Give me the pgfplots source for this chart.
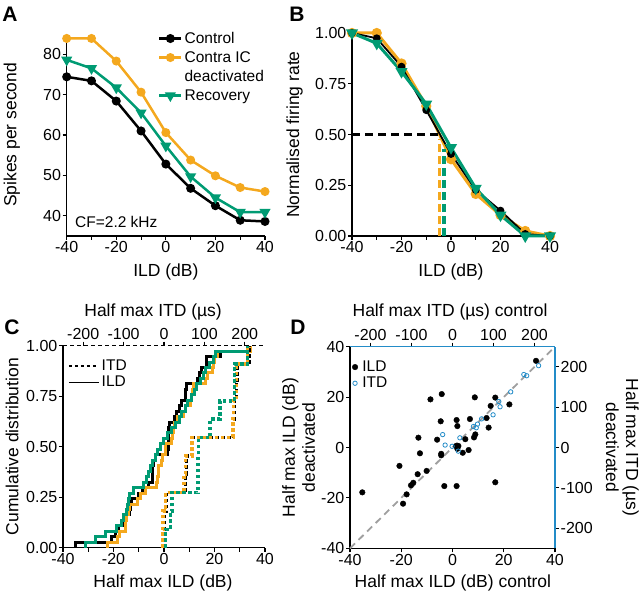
\documentclass[border=0pt]{standalone}
\usepackage{fontspec}
\setmainfont{Liberation Sans}
\usepackage{pgfplots}
\pgfplotsset{compat=1.18}
\definecolor{cOr}{RGB}{244,168,30}
\definecolor{cGr}{RGB}{0,155,115}
\definecolor{cBl}{RGB}{35,140,200}
\begin{document}
\begin{tikzpicture}
\path[use as bounding box] (0pt,0pt) rectangle (640pt,595pt);
\pgfplotsset{
  base/.style={
    scale only axis,
    anchor=south west,
    /pgf/number format/assume math mode=true,
    tick label style={font=\fontsize{16}{19}\selectfont, inner sep=1.5pt},
    label style={font=\fontsize{17.5}{20}\selectfont},
    axis line style={line width=1.3pt, -},
    tick style={line width=1.1pt, black},
    major tick length=4pt,
    tick align=outside,
    clip=false,
  },
  xl/.style 2 args={xlabel style={at={(axis description cs:#1,#2)}, anchor=center}},
  yl/.style 2 args={ylabel style={at={(axis description cs:#1,#2)}, anchor=center}},
}
% ---------------- Panel A ----------------
\begin{axis}[base, at={(66.7pt,359pt)}, width=198.3pt, height=202pt,
  xmin=-40, xmax=40, ymin=35, ymax=85,
  axis x line*=bottom, axis y line*=left,
  xtick={-40,-30,...,40}, xticklabels={-40,,-20,,0,,20,,40},
  ytick={40,50,60,70,80},
  xlabel={ILD (dB)}, ylabel={Spikes per second},
  xl={0.5}{-0.178}, yl={-0.276}{0.5},
  legend style={draw=none, fill=none, at={(0.46,1.02)}, anchor=north west,
    font=\fontsize{15.5}{19}\selectfont, row sep=2.5pt, inner sep=0pt},
  legend cell align=left,
  legend image code/.code={\draw[mark repeat=2,mark phase=2,#1] plot coordinates {(0pt,0pt) (11pt,0pt) (22pt,0pt)};},
]
\addplot[black, line width=2.5pt, mark=*, mark size=3.2pt] coordinates {
(-40,74.4) (-30,73.4) (-20,68.4) (-10,61.0) (0,52.8) (10,46.8) (20,42.5) (30,38.9) (40,38.6)};
\addlegendentry{Control}
\addplot[cOr, line width=2.5pt, mark=*, mark size=3.2pt] coordinates {
(-40,83.9) (-30,83.9) (-20,78.3) (-10,70.6) (0,60.6) (10,53.8) (20,49.9) (30,47.0) (40,46.0)};
\addlegendentry{Contra IC}
\addlegendimage{empty legend}
\addlegendentry{deactivated}
\addplot[cGr, line width=2.5pt, mark=triangle*, mark size=4pt, mark options={rotate=180}] coordinates {
(-40,78.6) (-30,76.5) (-20,71.7) (-10,65.5) (0,57.3) (10,49.7) (20,44.5) (30,40.9) (40,40.9)};
\addlegendentry{Recovery}
\node[anchor=west, font=\fontsize{15.5}{18}\selectfont] at (axis cs:-38,38.5) {CF=2.2 kHz};
\end{axis}
% ---------------- Panel B ----------------
\begin{axis}[base, at={(352pt,359pt)}, width=198pt, height=203pt,
  xmin=-40, xmax=40, ymin=0, ymax=1,
  axis x line*=bottom, axis y line*=left,
  xtick={-40,-30,...,40}, xticklabels={-40,,-20,,0,,20,,40},
  ytick={0,0.25,0.5,0.75,1}, yticklabels={0.00,0.25,0.50,0.75,1.00},
  xlabel={ILD (dB)}, ylabel={Normalised firing rate},
  xl={0.5}{-0.178}, yl={-0.29}{0.5},
]
\addplot[cOr, line width=3pt, mark=*, mark size=3.5pt] coordinates {
(-40,1.0) (-30,1.0) (-20,0.85) (-10,0.64) (0,0.378) (10,0.207) (20,0.103) (30,0.025) (40,0.0)};
\addplot[black, line width=1.8pt, mark=*, mark size=3pt] coordinates {
(-40,1.0) (-30,0.974) (-20,0.834) (-10,0.62) (0,0.404) (10,0.227) (20,0.125) (30,0.01) (40,0.0)};
\addplot[cGr, line width=3pt, mark=triangle*, mark size=4pt, mark options={rotate=180}] coordinates {
(-40,1.0) (-30,0.949) (-20,0.81) (-10,0.65) (0,0.435) (10,0.235) (20,0.103) (30,0.0) (40,0.0)};
\addplot[black, line width=3pt, dash pattern=on 8pt off 5pt] coordinates {(-40,0.5) (-5,0.5)};
\addplot[cOr, line width=3.5pt, dash pattern=on 8pt off 4pt] coordinates {(-4.7,0) (-4.7,0.48)};
\addplot[cGr, line width=3.5pt, dash pattern=on 8pt off 4pt] coordinates {(-2.8,0) (-2.8,0.43)};
\end{axis}
% ---------------- Panel C ----------------
\begin{axis}[base, at={(63pt,47.3pt)}, width=202pt, height=202pt,
  xmin=-40, xmax=40, ymin=0, ymax=1,
  axis x line*=bottom, axis y line*=left,
  xtick={-40,-30,...,40}, xticklabels={-40,,-20,,0,,20,,40},
  ytick={0,0.25,0.5,0.75,1}, yticklabels={0.00,0.25,0.50,0.75,1.00},
  xlabel={Half max ILD (dB)}, ylabel={Cumulative distribution},
  xl={0.495}{-0.175}, yl={-0.252}{0.5},
  legend style={draw=none, fill=none, at={(0.025,0.94)}, anchor=north west,
    font=\fontsize{15.5}{18}\selectfont, row sep=0pt, inner sep=0pt},
  legend cell align=left,
  legend image code/.code={\draw[#1] (0pt,0pt) -- (30pt,0pt);},
]
\addlegendimage{black, line width=1.5pt, dash pattern=on 3.5pt off 2.5pt}
\addlegendentry{ITD}
\addlegendimage{black, line width=1.5pt}
\addlegendentry{ILD}
\addplot[black, line width=3pt, const plot] coordinates {
(-35.2,0) (-35.2,0.027) (-20.7,0.054) (-19.3,0.081) (-17.9,0.108) (-16.2,0.135) (-15.3,0.162)
(-13.6,0.189) (-13.3,0.216) (-12.7,0.243) (-10.1,0.270) (-8.6,0.297) (-6.0,0.324) (-4.6,0.351)
(-4.4,0.378) (-4.4,0.405) (-4.2,0.432) (-3.2,0.459) (1.4,0.486) (1.6,0.514) (1.6,0.541)
(1.9,0.568) (1.9,0.595) (2.3,0.622) (4.0,0.649) (5.0,0.676) (6.3,0.703) (6.8,0.730)
(8.4,0.757) (8.7,0.784) (8.9,0.811) (13.3,0.838) (14.1,0.865) (14.9,0.892) (16.7,0.919)
(16.7,0.946) (22.2,0.973) (33.5,1.0)};
\addplot[cOr, line width=3pt, const plot] coordinates {
(-22.3,0) (-22.3,0.027) (-18.6,0.054) (-17.8,0.081) (-15.3,0.108) (-15.3,0.135) (-15.0,0.162)
(-14.0,0.189) (-13.8,0.216) (-10.6,0.243) (-9.3,0.270) (-7.3,0.297) (-3.1,0.324) (-2.5,0.351)
(-2.3,0.378) (-2.1,0.405) (-1.0,0.432) (-0.5,0.459) (0.6,0.486) (0.6,0.514) (3.1,0.541)
(3.3,0.568) (3.9,0.595) (4.0,0.622) (5.2,0.649) (7.9,0.676) (8.5,0.703) (10.4,0.730)
(10.9,0.757) (11.3,0.784) (11.7,0.811) (16.5,0.838) (17.1,0.865) (19.1,0.892) (19.8,0.919)
(19.9,0.946) (21.2,0.973) (34.4,1.0)};
\addplot[cGr, line width=3pt, const plot] coordinates {
(-31,0) (-31,0.027) (-27,0.054) (-23,0.081) (-19,0.108) (-17,0.135) (-16,0.162)
(-15,0.189) (-14.5,0.216) (-14.2,0.243) (-13.7,0.270) (-12,0.297) (-8,0.324) (-7,0.351)
(-6,0.378) (-5.5,0.405) (-4.5,0.432) (-3.5,0.459) (-2.5,0.486) (-1.5,0.514) (0,0.541)
(1.5,0.568) (3,0.595) (4.5,0.622) (6,0.649) (7,0.676) (8.5,0.703) (9.5,0.730)
(11,0.757) (12,0.784) (13,0.811) (14.5,0.838) (15.5,0.865) (16.5,0.892) (18,0.919)
(19.5,0.946) (20.5,0.973) (33,1.0)};
\end{axis}
\begin{axis}[base, at={(63pt,47.3pt)}, width=202pt, height=202pt,
  xmin=-250, xmax=250, ymin=0, ymax=1,
  axis x line*=top, axis y line=none,
  axis line style={line width=1.3pt, dash pattern=on 4pt off 3pt},
  xtick={-200,-100,0,100,200},
  xlabel={Half max ITD (µs)}, xl={0.446}{1.167},
]
\addplot[black, line width=3.5pt, const plot, dash pattern=on 3.5pt off 2.5pt] coordinates {
(-1,0) (-1,0.091) (0,0.182) (5,0.273) (53,0.364) (56,0.455) (70,0.545) (172,0.636) (174,0.727) (179,0.818) (182,0.909) (212,1.0)};
\addplot[cOr, line width=3.5pt, const plot, dash pattern=on 3.5pt off 2.5pt] coordinates {
(-3,0) (-3,0.091) (-2,0.182) (4,0.273) (50,0.364) (53,0.455) (69,0.545) (171,0.636) (172,0.727) (179,0.818) (179,0.909) (207,1.0)};
\addplot[cGr, line width=3.5pt, const plot, dash pattern=on 3.5pt off 2.5pt] coordinates {
(4,0) (4,0.091) (16,0.182) (20,0.273) (84,0.364) (84,0.455) (85,0.545) (114,0.636) (138,0.727) (175,0.818) (175,0.909) (207,1.0)};
\end{axis}
% ---------------- Panel D ----------------
\begin{axis}[base, at={(350pt,46.7pt)}, width=205pt, height=201.6pt,
  xmin=-40, xmax=40, ymin=-40, ymax=40,
  axis x line*=bottom, axis y line*=left,
  xtick={-40,-20,...,40}, ytick={-40,-20,...,40},
  xlabel={Half max ILD (dB) control}, ylabel={Half max ILD (dB)\\deactivated},
  xl={0.502}{-0.172}, yl={-0.251}{0.5},
  ylabel style={align=center},
  legend style={draw=none, fill=none, at={(0.01,0.94)}, anchor=north west,
    font=\fontsize{15.5}{18}\selectfont, row sep=0pt, inner sep=0pt},
  legend cell align=left,
  legend image code/.code={\draw[#1] plot coordinates {(3pt,0pt)};},
]
\addplot[gray!75, line width=1.8pt, dash pattern=on 7pt off 5pt, forget plot] coordinates {(-40,-40) (40,40)};
\addplot[only marks, mark=*, mark size=2.8pt, black] coordinates {
(-35.2,-17.8) (-20.7,-7.3) (-19.3,-22.3) (-17.9,-18.6) (-16.2,-15.0) (-15.3,-14.0)
(-13.6,-10.6) (-10.1,-9.3) (-13.3,3.9) (-12.7,-2.3) (-8.6,19.1) (-4.2,21.2) (-4.6,10.4)
(-6.0,3.1) (-4.4,-2.5) (-4.4,-3.1) (-3.2,-15.3) (1.6,-15.3) (1.6,10.9) (1.9,8.5) (1.4,0.6)
(2.3,0.6) (1.9,-0.5) (4.0,-2.1) (5.0,3.3) (6.3,-1.0) (6.8,11.3) (8.4,4.0) (8.9,5.2)
(8.7,19.9) (13.3,11.7) (14.1,7.9) (14.9,16.5) (16.7,19.8) (16.7,-13.8) (22.2,17.1) (32.6,34.4)};
\addlegendentry{\,ILD}
\addlegendimage{only marks, mark=o, mark size=2.2pt, cBl, line width=0.8pt}
\addlegendentry{\,ITD}
\end{axis}
\begin{axis}[base, at={(350pt,46.7pt)}, width=205pt, height=201.6pt,
  xmin=-250, xmax=250, ymin=-250, ymax=250,
  axis x line*=top, axis y line*=right,
  axis line style={cBl, line width=1.5pt},
  xtick={-200,-100,0,100,200}, ytick={-200,-100,0,100,200},
  xlabel={Half max ITD (µs) control}, ylabel={Half max ITD (µs)\\deactivated},
  xl={0.488}{1.172}, yl={1.329}{0.5},
  ylabel style={align=center, rotate=180},
]
\addplot[only marks, mark=o, mark size=2.2pt, cBl, line width=0.8pt] coordinates {
(-24,32) (-18,6) (-1,3) (14,-9) (18,24) (51,52) (58,49) (61,58) (71,71) (99,81)
(113,114) (116,101) (142,138) (174,181) (181,178) (210,203)};
\end{axis}
% ---------------- Panel letters ----------------
\node[font=\bfseries\fontsize{21}{21}\selectfont] at (10pt,581pt) {A};
\node[font=\bfseries\fontsize{21}{21}\selectfont] at (297pt,581pt) {B};
\node[font=\bfseries\fontsize{21}{21}\selectfont] at (12pt,268pt) {C};
\node[font=\bfseries\fontsize{21}{21}\selectfont] at (298pt,268pt) {D};
\end{tikzpicture}
\end{document}
